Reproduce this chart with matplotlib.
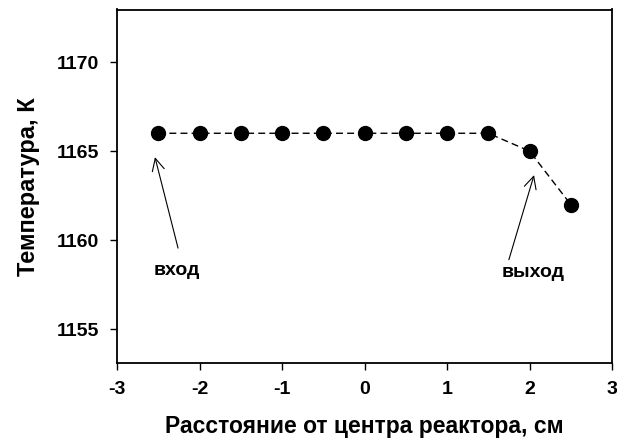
import matplotlib
matplotlib.use("Agg")
import matplotlib.pyplot as plt

plt.rcParams['font.family'] = ['Liberation Sans', 'DejaVu Sans']
plt.rcParams['font.weight'] = 'bold'

x_cm = [-2.5, -2.0, -1.5, -1.0, -0.5, 0.0, 0.5, 1.0, 1.5, 2.0, 2.5]
temp_K = [1166, 1166, 1166, 1166, 1166, 1166, 1166, 1166, 1166, 1165, 1162]
x_ticks = [-3, -2, -1, 0, 1, 2, 3]
y_ticks = [1155, 1160, 1165, 1170]
label_in = "вход"
label_out = "выход"

W, H = 617, 448
fig = plt.figure(figsize=(W / 100, H / 100), dpi=100)
ax = fig.add_axes([117 / W, 1 - 363 / H, (612 - 117) / W, (363 - 9.5) / H])

ax.plot(x_cm, temp_K, linestyle=(0, (5, 3)), color='black', linewidth=1.0,
        marker='o', markersize=10, markerfacecolor='black', markeredgecolor='black')

ax.set_xlim(-3, 3)
ax.set_ylim(1153.1, 1172.95)
ax.set_xticks(x_ticks)
ax.set_yticks(y_ticks)
ax.set_xticklabels([str(t) for t in x_ticks], fontsize=14, fontweight='bold')
ax.set_yticklabels([str(t) for t in y_ticks], fontsize=14, fontweight='bold')
ax.tick_params(direction='out', length=5, width=1.0, pad=8)
for s in ax.spines.values():
    s.set_linewidth(1.3)

ax.set_xlabel("Расстояние от центра реактора, см", fontsize=16.5, fontweight='bold', labelpad=12)
ax.set_ylabel("Температура, К", fontsize=17, fontweight='bold', labelpad=12)

arrow_kw = dict(arrowstyle='->', color='black', lw=0.8, shrinkA=0, shrinkB=0, mutation_scale=22)
ax.annotate("", xy=(-2.54, 1164.66), xytext=(-2.26, 1159.55), arrowprops=arrow_kw)
ax.text(-2.27, 1158.27, label_in, fontsize=14, fontweight='bold', ha='center', va='center')
ax.annotate("", xy=(2.055, 1163.65), xytext=(1.75, 1158.9), arrowprops=arrow_kw)
ax.text(2.04, 1158.16, label_out, fontsize=14, fontweight='bold', ha='center', va='center')

fig.savefig("out.png", dpi=100)
